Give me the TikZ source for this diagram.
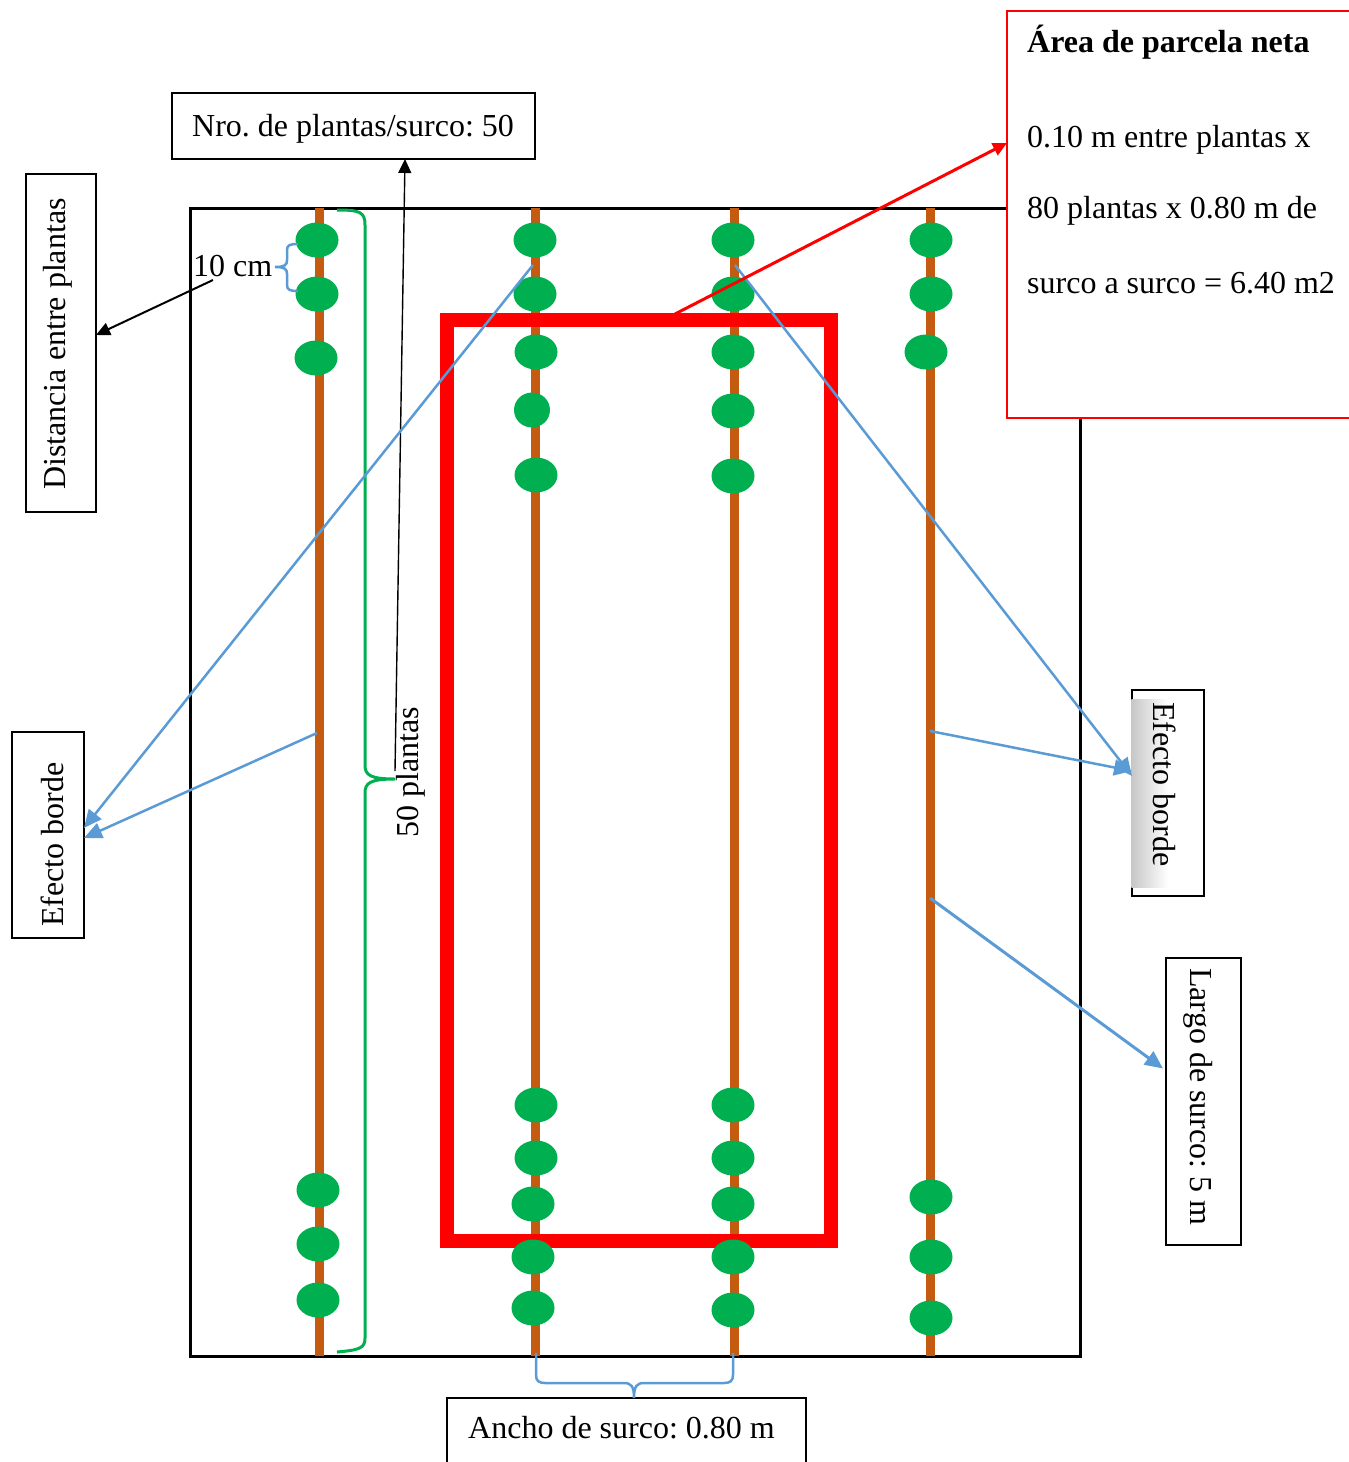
\documentclass[tikz,border=0pt]{standalone}
\usepackage{fontspec}
\setmainfont{Liberation Serif}
\usetikzlibrary{arrows.meta}
\definecolor{surco}{HTML}{C55A11}
\definecolor{planta}{HTML}{00B050}
\definecolor{azul}{HTML}{5B9BD5}
\definecolor{rojo}{HTML}{FF0000}
\frenchspacing
\begin{document}
\begin{tikzpicture}[x=1pt,y=-1pt,
  txt/.style={inner sep=0pt, font=\fontsize{32}{38}\selectfont},
  box/.style={draw=black, line width=1.2pt, inner sep=0pt, outer sep=0pt, anchor=north west},
  rowline/.style={draw=surco, line width=9pt},
  blarrow/.style={draw=black, line width=1.4pt, -{Triangle[length=14pt,width=13pt]}},
  bluearrow/.style={draw=azul, line width=2.5pt, -{Triangle[length=18pt,width=16pt]}},
  bluebrace/.style={draw=azul, line width=2.5pt},
  greenbrace/.style={draw=planta, line width=3pt}]
\useasboundingbox (0,0) rectangle (1349,1462);

% field outline
\node[box, line width=3pt, minimum width=890pt, minimum height=1148pt] (campo) at (190,208) {};

% rows
\foreach \x in {319,535,734,930} \draw[rowline] (\x,208) -- (\x,1356);

% red net plot rectangle
\node[draw=rojo, line width=14pt, inner sep=0pt, outer sep=0pt, anchor=north west,
      minimum width=384pt, minimum height=921pt] (neta) at (447,320) {};

% plants
\foreach \x/\y in {317/240,317/294,316/358,318/1190,318/1244,318/1300,
  535/240,535/294,536/352,536/475,536/1105,536/1158,533/1204,533/1257,533/1308,
  733/240,733/294,733/352,733/411,733/476,733/1105,733/1158,733/1204,733/1257,733/1310,
  931/240,931/294,926/352,931/1197,931/1257,931/1318}
  \fill[planta] (\x,\y) ellipse [x radius=21.5, y radius=17.5];
\fill[planta] (532,410) ellipse [x radius=18, y radius=17.5];

% boxes
\node[box, minimum width=363pt, minimum height=66pt] (nro) at (172,93) {};
\node[box, minimum width=70pt, minimum height=338pt] (dist) at (26,174) {};
\node[box, minimum width=72pt, minimum height=206pt] (efl) at (12,732) {};
\node[box, minimum width=72pt, minimum height=206pt] (efr) at (1132,690) {};
\shade[left color=black!22, right color=white] (1131.4,699) rectangle (1168,887);
\node[box, minimum width=75pt, minimum height=287pt] (largo) at (1166,958) {};
\node[box, minimum width=359pt, minimum height=90pt] (ancho) at (447,1398) {};
\node[box, draw=rojo, fill=white, minimum width=360pt, minimum height=407pt] (area) at (1007,11) {};

% texts
\node[txt, anchor=base west] (tnro) at (192,136) {Nro. de plantas/surco: 50};
\node[txt, anchor=base west] (tancho) at (468,1438) {Ancho de surco: 0.80 m};
\node[txt, anchor=base west] (t10) at (193,276) {10 cm};
\node[txt, anchor=base west, rotate=90] (tdist) at (65,490) {Distancia entre plantas};
\node[txt, anchor=base west, rotate=90] (tefl) at (63,927) {Efecto borde};
\node[txt, anchor=base west, rotate=90] (t50) at (418,838) {50 plantas};
\node[txt, anchor=base west, rotate=-90] (tefr) at (1153,702) {Efecto borde};
\node[txt, anchor=base west, rotate=-90] (tlargo) at (1190,968) {Largo de surco: 5 m};
\node[txt, anchor=base west] (ta1) at (1027,52) {\bfseries Área de parcela neta};
\node[txt, anchor=base west] (ta2) at (1027,147) {0.10 m entre plantas x};
\node[txt, anchor=base west] (ta3) at (1027,218) {80 plantas x 0.80 m de};
\node[txt, anchor=base west] (ta4) at (1027,293) {surco a surco = 6.40 m2};

% braces
\draw[greenbrace] (337,210) .. controls (360,210) and (365,212) .. (365,225)
  -- (365,765) .. controls (365,775) and (370,779) .. (395,779)
  .. controls (370,779) and (365,783) .. (365,793)
  -- (365,1338) .. controls (365,1348) and (360,1350) .. (337,1352);
\draw[bluebrace] (298,244) .. controls (290,244) and (287,245) .. (287,250)
  -- (287,260) .. controls (287,265) and (285,267) .. (275,267)
  .. controls (285,267) and (287,269) .. (287,274)
  -- (287,285) .. controls (287,290) and (290,291) .. (298,291);
\draw[bluebrace] (536,1353) -- (536,1375) .. controls (536,1381) and (539,1383) .. (545,1383)
  -- (624,1383) .. controls (631,1383) and (634,1386) .. (634,1398)
  .. controls (634,1386) and (637,1383) .. (644,1383)
  -- (724,1383) .. controls (730,1383) and (733,1381) .. (733,1375) -- (733,1353);

% connector start points
\coordinate (c10) at (213,280);
\coordinate (c50) at (395,771);
\coordinate (p1) at (317,733);
\coordinate (p2) at (533,265);
\coordinate (p3) at (735,265);
\coordinate (p4) at (930,731);
\coordinate (p5) at (930,898);
\coordinate (cneta) at (675,314);

% connectors
\draw[blarrow] (c50) -- ([xshift=51.5pt]nro.south);
\draw[blarrow, line width=2pt] (c10) -- ([yshift=8pt]dist.east);
\draw[bluearrow] (p2) -- ([yshift=7pt]efl.east);
\draw[bluearrow] (p1) -- ([yshift=-3pt]efl.east);
\draw[bluearrow] (p3) -- ([yshift=17pt]efr.west);
\draw[bluearrow] (p4) -- ([yshift=22pt]efr.west);
\draw[bluearrow, line width=3pt] (p5) -- ([yshift=33pt,xshift=-3pt]largo.west);
\draw[draw=rojo, line width=3pt, -{Triangle[length=14pt,width=13pt]}] (cneta) -- ([yshift=71.5pt]area.west);
\end{tikzpicture}
\end{document}
